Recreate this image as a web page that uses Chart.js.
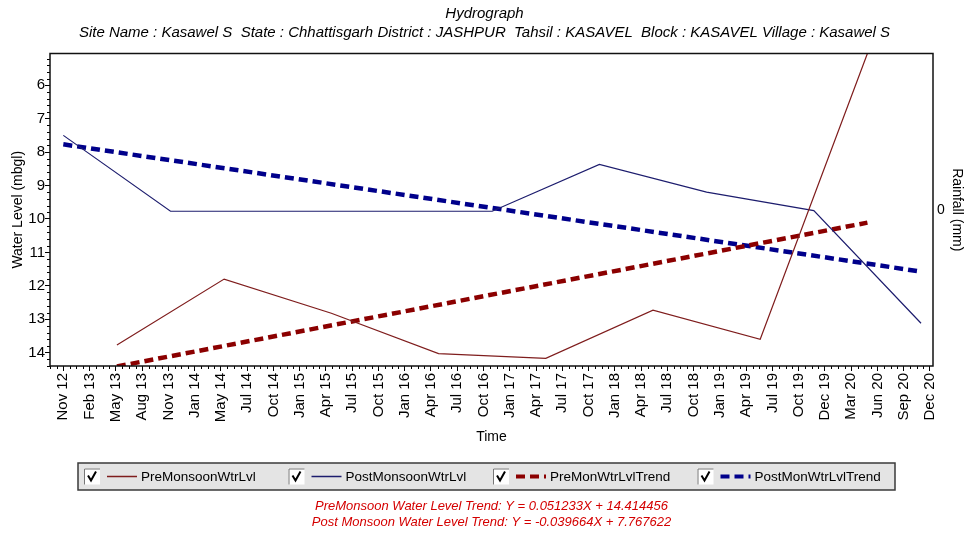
<!DOCTYPE html>
<html>
<head>
<meta charset="utf-8">
<title>Hydrograph</title>
<script src="https://cdn.jsdelivr.net/npm/chart.js@4/dist/chart.umd.min.js"></script>
<style>
  html, body { margin: 0; padding: 0; background: #fff; }
  #c { display: block; }
</style>
</head>
<body>
<canvas id="c" width="969" height="536"></canvas>
<script>
// Time is measured in months from Nov 2012; the axis runs to Dec 2020 (97 months)
// and carries 34 evenly spaced, month-rounded labels.
const tickLabels = ['Nov 12','Feb 13','May 13','Aug 13','Nov 13','Jan 14','May 14','Jul 14','Oct 14',
  'Jan 15','Apr 15','Jul 15','Oct 15','Jan 16','Apr 16','Jul 16','Oct 16','Jan 17','Apr 17','Jul 17',
  'Oct 17','Jan 18','Apr 18','Jul 18','Oct 18','Jan 19','Apr 19','Jul 19','Oct 19','Dec 19','Mar 20',
  'Jun 20','Sep 20','Dec 20'];
const axisSpanMonths = 97;

// Pre-monsoon (May) water levels, metres below ground level
const preMonths = [6, 18, 30, 42, 54, 66, 78, 90];
const preLevels = [13.77, 11.80, 12.82, 14.03, 14.17, 12.73, 13.60, 5.05];

// Post-monsoon (Nov) water levels
const postMonths = [0, 12, 48, 60, 72, 84, 96];
const postLevels = [7.50, 9.77, 9.77, 8.37, 9.20, 9.75, 13.12];

// Linear trend fits, X in months from the first reading of each series
const preSlope = 0.051233, preIntercept = 14.414456;
const postSlope = -0.039664, postIntercept = 7.767622;
const preTrendMonths = [6, 90];
const postTrendMonths = [0, 96];

const yTicks = [6, 7, 8, 9, 10, 11, 12, 13, 14];

const FONT = '"Liberation Sans", Arial, sans-serif';

function pts(xs, ys) { return xs.map((m, i) => ({ x: m, y: ys[i] })); }
function trendPts(months, slope, intercept) {
  // the fitted value's sign is flipped onto the reversed depth axis
  return months.map(m => ({ x: m, y: intercept - slope * (m - months[0]) }));
}

const extras = {
  id: 'extras',
  afterDraw(chart) {
    const { ctx, chartArea: a, scales } = chart;
    const x = scales.x, y = scales.y;
    ctx.save();

    // minor tick marks
    ctx.strokeStyle = '#000';
    ctx.lineWidth = 1;
    ctx.beginPath();
    const step = axisSpanMonths / (tickLabels.length - 1) / 4;
    const kStart = Math.ceil(x.min / step), kEnd = Math.floor(x.max / step);
    for (let k = kStart; k <= kEnd; k++) {
      if (k % 4 === 0) continue;
      const px = Math.round(x.getPixelForValue(k * step)) + 0.5;
      ctx.moveTo(px, a.bottom);
      ctx.lineTo(px, a.bottom + 3);
    }
    for (let k = Math.ceil(y.min * 5); k <= Math.floor(y.max * 5); k++) {
      if (k % 5 === 0) continue;
      const py = Math.round(y.getPixelForValue(k / 5)) + 0.5;
      ctx.moveTo(a.left, py);
      ctx.lineTo(a.left - 3, py);
    }
    ctx.stroke();

    // plot frame
    ctx.strokeStyle = '#111';
    ctx.lineWidth = 1.5;
    ctx.strokeRect(a.left, a.top, a.right - a.left, a.bottom - a.top);

    // legend strip
    const bL = 78, bT = 463, bR = 895, bB = 490;
    ctx.fillStyle = '#e4e4e4';
    ctx.fillRect(bL, bT, bR - bL, bB - bT);
    ctx.strokeStyle = '#3a3a3a';
    ctx.lineWidth = 1.5;
    ctx.strokeRect(bL, bT, bR - bL, bB - bT);

    const midY = (bT + bB) / 2;
    chart.data.datasets.forEach((ds, i) => {
      const x0 = 84 + i * 204.5;
      // check box
      ctx.fillStyle = '#fff';
      ctx.fillRect(x0, midY - 8, 16, 16);
      ctx.strokeStyle = '#777';
      ctx.lineWidth = 1;
      ctx.beginPath();
      ctx.moveTo(x0 + 0.5, midY + 8);
      ctx.lineTo(x0 + 0.5, midY - 7.5);
      ctx.lineTo(x0 + 16, midY - 7.5);
      ctx.stroke();
      ctx.strokeStyle = '#000';
      ctx.lineWidth = 2;
      ctx.beginPath();
      ctx.moveTo(x0 + 4, midY - 1);
      ctx.lineTo(x0 + 7, midY + 4);
      ctx.lineTo(x0 + 12, midY - 5);
      ctx.stroke();

      // line sample
      ctx.strokeStyle = ds.borderColor;
      ctx.lineWidth = ds.borderDash ? 4 : 1.5;
      ctx.setLineDash(ds.borderDash ? [9, 5] : []);
      ctx.beginPath();
      ctx.moveTo(x0 + 23, midY);
      ctx.lineTo(x0 + 53, midY);
      ctx.stroke();
      ctx.setLineDash([]);

      ctx.fillStyle = '#000';
      ctx.font = '13.5px ' + FONT;
      ctx.textBaseline = 'middle';
      ctx.textAlign = 'left';
      ctx.fillText(ds.label, x0 + 57, midY + 1);
    });

    // trend equations
    ctx.fillStyle = '#d40000';
    ctx.font = 'italic 13px ' + FONT;
    ctx.textAlign = 'center';
    ctx.textBaseline = 'middle';
    const cx = (a.left + a.right) / 2;
    ctx.fillText(`PreMonsoon Water Level Trend: Y = ${preSlope}X + ${preIntercept}`, cx, 506);
    ctx.fillText(`Post Monsoon Water Level Trend: Y = ${postSlope}X + ${postIntercept}`, cx, 522);
    ctx.restore();
  }
};

new Chart(document.getElementById('c'), {
  type: 'line',
  data: {
    datasets: [
      { label: 'PreMonsoonWtrLvl', data: pts(preMonths, preLevels),
        borderColor: '#7f1d1d', borderWidth: 1.2, pointRadius: 0, tension: 0 },
      { label: 'PostMonsoonWtrLvl', data: pts(postMonths, postLevels),
        borderColor: '#1d1d6e', borderWidth: 1.2, pointRadius: 0, tension: 0 },
      { label: 'PreMonWtrLvlTrend', data: trendPts(preTrendMonths, preSlope, preIntercept),
        borderColor: '#8b0000', borderWidth: 4.5, borderDash: [9, 5], pointRadius: 0 },
      { label: 'PostMonWtrLvlTrend', data: trendPts(postTrendMonths, postSlope, postIntercept),
        borderColor: '#00008b', borderWidth: 4.5, borderDash: [9, 5], pointRadius: 0 }
    ]
  },
  options: {
    responsive: false,
    animation: false,
    devicePixelRatio: 1,
    layout: { padding: { top: 0, left: 0, right: 0, bottom: 90 } },
    plugins: {
      legend: { display: false },
      tooltip: { enabled: false },
      title: {
        display: true, text: 'Hydrograph', color: '#000',
        font: { family: FONT, size: 15, style: 'italic', weight: 'normal' },
        padding: { top: 5, bottom: 1 }
      },
      subtitle: {
        display: true,
        text: 'Site Name : Kasawel S  State : Chhattisgarh District : JASHPUR  Tahsil : KASAVEL  Block : KASAVEL Village : Kasawel S',
        color: '#000',
        font: { family: FONT, size: 15, style: 'italic', weight: 'normal' },
        padding: { top: 0, bottom: 11.5 }
      }
    },
    scales: {
      x: {
        type: 'linear',
        min: -1.49, max: 97.34,
        afterBuildTicks: s => { s.ticks = tickLabels.map((_, i) => ({ value: i * axisSpanMonths / (tickLabels.length - 1) })); },
        afterFit: s => { s.height = 80; },
        ticks: {
          autoSkip: false, minRotation: 90, maxRotation: 90, padding: 2, color: '#000',
          font: { family: FONT, size: 15 },
          callback: (v, i) => tickLabels[i]
        },
        grid: { drawOnChartArea: false, drawTicks: true, tickLength: 5, color: '#000' },
        border: { display: false },
        title: { display: true, text: 'Time', color: '#000', font: { family: FONT, size: 14 }, padding: { top: 0, bottom: 0 } }
      },
      y: {
        reverse: true,
        min: 5.05, max: 14.4,
        afterBuildTicks: s => { s.ticks = yTicks.map(v => ({ value: v })); },
        afterFit: s => { s.width = 50; },
        ticks: { padding: 0, color: '#000', font: { family: FONT, size: 15 } },
        grid: { drawOnChartArea: false, drawTicks: true, tickLength: 5, color: '#000' },
        border: { display: false },
        title: { display: true, text: 'Water Level (mbgl)', color: '#000', font: { family: FONT, size: 14 }, padding: { top: 10, bottom: 0 } }
      },
      y1: {
        position: 'right',
        min: -1, max: 1,
        afterBuildTicks: s => { s.ticks = [{ value: 0 }]; },
        afterFit: s => { s.width = 36; },
        ticks: { padding: 4, color: '#000', font: { family: FONT, size: 14 } },
        grid: { drawOnChartArea: false, drawTicks: false },
        border: { display: false },
        title: { display: true, text: 'Rainfall (mm)', color: '#000', font: { family: FONT, size: 14 }, padding: { top: 4, bottom: 0 } }
      }
    }
  },
  plugins: [extras]
});
</script>
</body>
</html>
